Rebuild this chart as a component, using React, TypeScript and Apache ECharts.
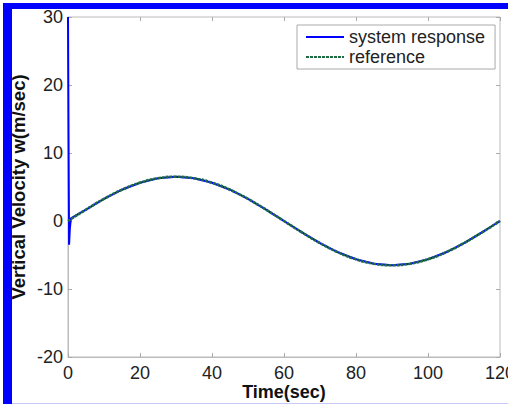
import React, { useEffect, useRef } from "react";
import * as echarts from "echarts";

const xTicks = [0, 20, 40, 60, 80, 100, 120];
const yTicks = [-20, -10, 0, 10, 20, 30];

const refTime = [0, 5, 10, 15, 20, 25, 30, 35, 40, 45, 50, 55, 60, 65, 70, 75, 80, 85, 90, 95, 100, 105, 110, 115, 120];
const refValue = [0, 1.68, 3.25, 4.6, 5.63, 6.28, 6.5, 6.28, 5.63, 4.6, 3.25, 1.68, 0, -1.68, -3.25, -4.6, -5.63, -6.28, -6.5, -6.28, -5.63, -4.6, -3.25, -1.68, 0];

const sysTime = [0, 0.15, 0.3, 0.5, 0.8, 1.5, 5, 10, 15, 20, 25, 30, 35, 40, 45, 50, 55, 60, 65, 70, 75, 80, 85, 90, 95, 100, 105, 110, 115, 120];
const sysValue = [30, 12, -3.5, -1.2, 0.4, 0.6, 1.68, 3.25, 4.6, 5.63, 6.28, 6.5, 6.28, 5.63, 4.6, 3.25, 1.68, 0, -1.68, -3.25, -4.6, -5.63, -6.28, -6.5, -6.28, -5.63, -4.6, -3.25, -1.68, 0];

const seriesNames = ["system response", "reference"];

export default function App() {
  const ref = useRef<HTMLDivElement>(null);
  useEffect(() => {
    if (!ref.current) return;
    const chart = echarts.init(ref.current, null, { renderer: "svg" });
    const font = "'Liberation Sans', Arial, sans-serif";
    const tickStyle = { show: true, inside: true, length: 4, lineStyle: { color: "#aaa" } };
    chart.setOption({
      animation: false,
      backgroundColor: "#ffffff",
      grid: {
        left: 68,
        right: 8,
        top: 17,
        bottom: 47,
        show: true,
        borderColor: "#bbb",
        borderWidth: 1,
        containLabel: false,
        outerBoundsMode: "none",
      },
      legend: {
        left: 297,
        top: 25,
        orient: "vertical",
        data: seriesNames,
        itemWidth: 38,
        itemHeight: 12,
        itemGap: 2,
        padding: [3, 10, 3, 8],
        borderColor: "#aaa",
        borderWidth: 1,
        borderRadius: 0,
        backgroundColor: "#fff",
        itemStyle: { opacity: 0 },
        textStyle: { fontFamily: font, fontSize: 18, color: "#222" },
      },
      xAxis: [
        {
          type: "value",
          min: 0,
          max: 120,
          interval: 20,
          data: xTicks,
          name: "Time(sec)",
          nameLocation: "middle",
          nameGap: 26,
          nameMoveOverlap: false,
          nameTextStyle: { fontFamily: font, fontSize: 18, fontWeight: "bold", color: "#111" },
          axisLine: { show: true, onZero: false, lineStyle: { color: "#bbb" } },
          axisTick: tickStyle,
          splitLine: { show: false },
          axisLabel: { fontFamily: font, fontSize: 18, color: "#222", margin: 7, showMaxLabel: true },
        },
        {
          type: "value",
          position: "top",
          min: 0,
          max: 120,
          interval: 20,
          axisLine: { show: false, onZero: false },
          axisTick: tickStyle,
          axisLabel: { show: false },
          splitLine: { show: false },
        },
      ],
      yAxis: [
        {
          type: "value",
          min: -20,
          max: 30,
          interval: 10,
          data: yTicks,
          name: "Vertical Velocity w(m/sec)",
          nameLocation: "middle",
          nameGap: 40,
          nameMoveOverlap: false,
          nameTextStyle: { fontFamily: font, fontSize: 18.5, fontWeight: "bold", color: "#111" },
          axisLine: { show: true, onZero: false, lineStyle: { color: "#bbb" } },
          axisTick: tickStyle,
          splitLine: { show: false },
          axisLabel: { fontFamily: font, fontSize: 18, color: "#222", margin: 5 },
        },
        {
          type: "value",
          position: "right",
          min: -20,
          max: 30,
          interval: 10,
          axisLine: { show: false, onZero: false },
          axisTick: tickStyle,
          axisLabel: { show: false },
          splitLine: { show: false },
        },
      ],
      series: [
        {
          name: seriesNames[0],
          type: "line",
          symbol: "none",
          data: sysTime.map((t, i) => [t, sysValue[i]]),
          lineStyle: { color: "#0000ff", width: 2 },
          itemStyle: { color: "#0000ff" },
          z: 2,
        },
        {
          name: seriesNames[1],
          type: "line",
          symbol: "none",
          smooth: true,
          data: refTime.map((t, i) => [t, refValue[i]]),
          lineStyle: { color: "#1e6b44", width: 2.6, type: [3, 1] },
          itemStyle: { color: "#1e6b44" },
          z: 3,
        },
      ],
      graphic: [
        { type: "rect", shape: { x: 3, y: 3, width: 505, height: 6 }, style: { fill: "#0000ff" }, z: 100 },
        { type: "rect", shape: { x: 3, y: 3, width: 9, height: 401 }, style: { fill: "#0000ff" }, z: 100 },
        { type: "rect", shape: { x: 12, y: 403, width: 496, height: 1 }, style: { fill: "#c8c8f4" }, z: 100 },
      ],
    });
    return () => chart.dispose();
  }, []);
  return (
    <div
      ref={ref}
      style={{ position: "absolute", left: 0, top: 0, width: 508, height: 404 }}
    />
  );
}
